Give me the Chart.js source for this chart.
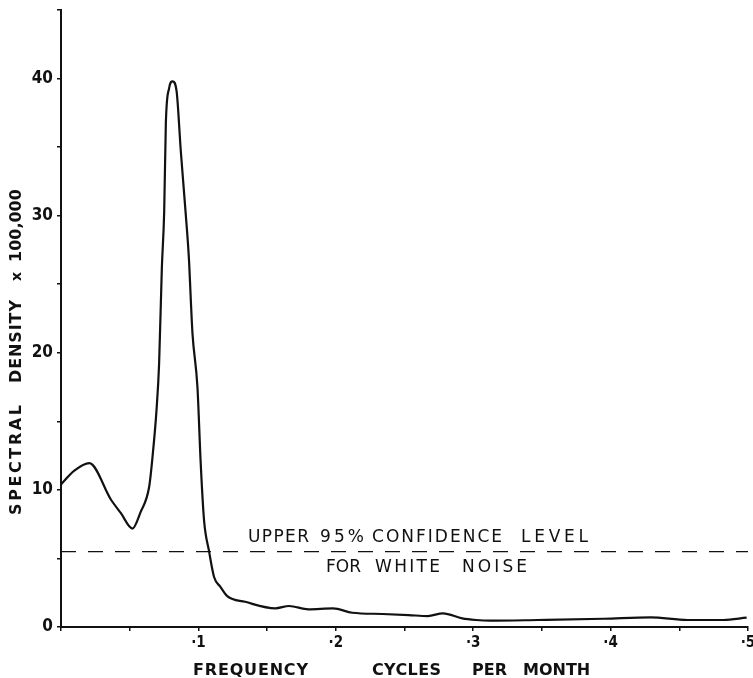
<!DOCTYPE html>
<html>
<head>
<meta charset="utf-8">
<script src="https://cdn.jsdelivr.net/npm/chart.js@4"></script>
<style>
  html, body { margin: 0; padding: 0; background: #fff; }
  canvas { display: block; }
</style>
</head>
<body>
<canvas id="spectrum" width="753" height="678"></canvas>
<script>
// frequency in cycles per month, spectral density x 100,000
const freq = [0, 0.0097, 0.0206, 0.0363, 0.0436, 0.052, 0.058, 0.0642, 0.0666, 0.0695, 0.0714,
  0.0734, 0.0751, 0.0763, 0.0787, 0.0812, 0.0841, 0.0872, 0.0908, 0.0932, 0.0945, 0.0957,
  0.0993, 0.1017, 0.1041, 0.1078, 0.1114, 0.116, 0.121, 0.134, 0.156, 0.166, 0.18, 0.198,
  0.212, 0.234, 0.253, 0.267, 0.278, 0.292, 0.302, 0.3125, 0.347, 0.395, 0.429, 0.456, 0.482, 0.499];
const density = [10.4, 11.4, 11.95, 9.3, 8.3, 7.18, 8.4, 10.25, 12.4, 15.8, 19.2,
  26.2, 30.3, 36.7, 39.3, 39.8, 39.1, 34.7, 30.1, 26.7, 23.8, 21.4,
  17.5, 11.9, 7.8, 5.5, 3.65, 2.93, 2.25, 1.84, 1.36, 1.53, 1.29, 1.36,
  1.04, 0.95, 0.87, 0.8, 1.0, 0.63, 0.51, 0.46, 0.51, 0.6, 0.7, 0.51, 0.51, 0.68];
const confLevel = 5.5;
const xRange = [0, 0.5];
const yRange = [0, 45];
const yLabelled = [0, 10, 20, 30, 40];

const TICKFONT = '"DejaVu Sans Condensed", "DejaVu Sans", sans-serif';
const FONT = '"DejaVu Sans", sans-serif';
const INK = '#111';

// text placement (pixels)
const upperWords = [['UPPER', 248, 309], ['95%', 320, 364], ['CONFIDENCE', 372, 502], ['LEVEL', 521, 588]];
const lowerWords = [['FOR', 326, 358], ['WHITE', 375, 440], ['NOISE', 462, 527]];
const xTitleWords = [['FREQUENCY', 193, 308], ['CYCLES', 372, 441], ['PER', 472, 507], ['MONTH', 523, 590]];
const yTitleWords = [['SPECTRAL', 515, 405], ['DENSITY', 383, 300], ['x', 281, null], ['100,000', 262, 200]];

function spaced(ctx, text, x0, x1, y){
  ctx.letterSpacing = '0px';
  const w = ctx.measureText(text).width;
  const n = text.length - 1;
  const ls = (x1 != null && n > 0) ? Math.max(0, (x1 - x0 - w) / n) : 0;
  ctx.letterSpacing = ls + 'px';
  ctx.textAlign = 'left';
  ctx.fillText(text, x0, y);
  ctx.letterSpacing = '0px';
}

const textPlugin = {
  id: 'texts',
  beforeDraw(chart){
    const c = chart.ctx;
    c.save(); c.fillStyle = '#fff'; c.fillRect(0, 0, chart.width, chart.height); c.restore();
  },
  afterDraw(chart){
    const ctx = chart.ctx;
    const yc = chart.scales.y.getPixelForValue(confLevel);
    ctx.save();
    ctx.fillStyle = INK;
    ctx.textBaseline = 'alphabetic';
    ctx.font = '17px ' + FONT;
    upperWords.forEach(([t, a, b]) => spaced(ctx, t, a, b, yc - 10));
    lowerWords.forEach(([t, a, b]) => spaced(ctx, t, a, b, yc + 20));
    ctx.font = 'bold 16px ' + FONT;
    xTitleWords.forEach(([t, a, b]) => spaced(ctx, t, a, b, 675));
    // rotated y title
    yTitleWords.forEach(([t, bottom, top]) => {
      ctx.save();
      ctx.translate(20.5, bottom);
      ctx.rotate(-Math.PI / 2);
      ctx.font = (t === 'x' ? 'bold 14px ' : 'bold 16px ') + FONT;
      spaced(ctx, t, 0, top == null ? null : bottom - top, 0);
      ctx.restore();
    });
    ctx.restore();
  }
};

new Chart(document.getElementById('spectrum'), {
  type: 'scatter',
  data: {
    datasets: [{
      data: freq.map((f, i) => ({ x: f, y: density[i] })),
      showLine: true,
      borderColor: INK,
      borderWidth: 2.2,
      pointRadius: 0,
      cubicInterpolationMode: 'monotone',
      clip: false
    }, {
      data: [{ x: xRange[0], y: confLevel }, { x: xRange[1], y: confLevel }],
      showLine: true,
      borderColor: INK,
      borderWidth: 1.4,
      borderDash: [15, 12],
      pointRadius: 0
    }]
  },
  options: {
    responsive: false,
    animation: false,
    devicePixelRatio: 1,
    layout: { padding: { left: 0, right: 5, top: 10, bottom: 0 } },
    plugins: { legend: { display: false }, tooltip: { enabled: false } },
    scales: {
      x: {
        type: 'linear', min: xRange[0], max: xRange[1],
        border: { display: true, color: INK, width: 2 },
        grid: { drawOnChartArea: false, drawTicks: true, tickLength: 4, color: INK, lineWidth: 1.5 },
        ticks: {
          stepSize: 0.05, autoSkip: false, maxRotation: 0, padding: 3,
          color: INK, font: { family: TICKFONT, size: 15, weight: 'bold' },
          callback: v => { const k = Math.round(v * 20); return (k > 0 && k % 2 === 0) ? '\u00B7' + (k / 2) : ''; }
        },
        afterFit: s => { s.height = 51; s.paddingLeft = 0; s.paddingRight = 0; }
      },
      y: {
        min: yRange[0], max: yRange[1],
        border: { display: true, color: INK, width: 2 },
        grid: { drawOnChartArea: false, drawTicks: true, tickLength: 4, color: INK, lineWidth: 1.5 },
        ticks: {
          stepSize: 5, autoSkip: false, padding: 4,
          color: INK, font: { family: TICKFONT, size: 17, weight: 'bold' },
          callback: v => yLabelled.includes(v) ? String(v) : ''
        },
        afterFit: s => { s.width = 61; s.paddingTop = 0; s.paddingBottom = 0; }
      }
    }
  },
  plugins: [textPlugin]
});
</script>
</body>
</html>
